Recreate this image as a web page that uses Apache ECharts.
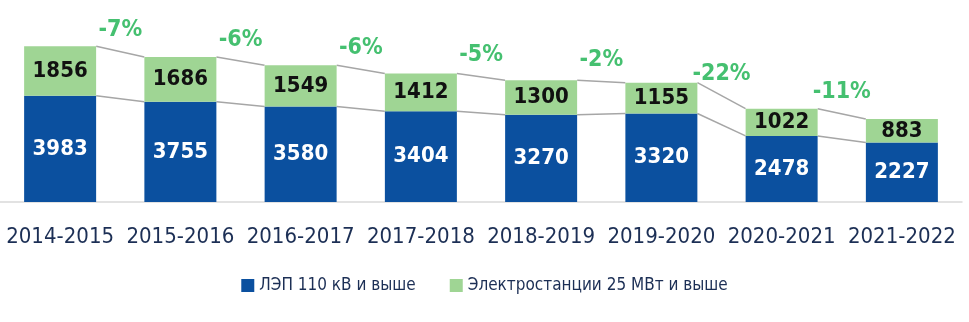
<!DOCTYPE html>
<html>
<head>
<meta charset="utf-8">
<script src="https://cdn.jsdelivr.net/npm/echarts@6/dist/echarts.min.js"></script>
<style>
  html, body { margin: 0; padding: 0; background: #fff; }
  #chart { width: 969px; height: 322px; }
</style>
</head>
<body>
<div id="chart"></div>
<script>
  // данные
  var years = ['2014-2015', '2015-2016', '2016-2017', '2017-2018', '2018-2019', '2019-2020', '2020-2021', '2021-2022'];
  var lines110 = [3983, 3755, 3580, 3404, 3270, 3320, 2478, 2227];
  var plants25 = [1856, 1686, 1549, 1412, 1300, 1155, 1022, 883];
  var changePct = [-7, -6, -6, -5, -2, -22, -11];
  var legendNames = ['ЛЭП 110 кВ и выше', 'Электростанции 25 МВт и выше'];

  var numFont = "'DejaVu Sans Condensed', Roboto, sans-serif";
  var half = 0.3; // половина ширины столбца в долях категории
  var totals = lines110.map(function (v, i) { return v + plants25[i]; });

  // соединительные линии между столбцами
  var connectors = [];
  for (var i = 0; i < years.length - 1; i++) {
    connectors.push({ coords: [[i + half, totals[i]], [i + 1 - half, totals[i + 1]]] });
    connectors.push({ coords: [[i + half, lines110[i]], [i + 1 - half, lines110[i + 1]]] });
  }
  var pctPoints = changePct.map(function (p, i) {
    return { value: [i + 0.5, (totals[i] + totals[i + 1]) / 2], label: { formatter: p + '%' } };
  });

  var chart = echarts.init(document.getElementById('chart'));
  var option = {
    animation: false,
    grid: { left: -3, right: 7, top: 2, bottom: 120 },
    legend: {
      data: legendNames,
      bottom: 23,
      left: 'center',
      itemWidth: 13,
      itemHeight: 13,
      itemGap: 34,
      icon: 'rect',
      textStyle: { fontFamily: numFont, fontSize: 17, color: '#1c2f55' }
    },
    xAxis: [
      {
        type: 'category',
        data: years,
        axisTick: { show: false },
        axisLine: { lineStyle: { color: '#d9d9d9', width: 1.5 } },
        axisLabel: { interval: 0, margin: 24, fontFamily: numFont, fontSize: 22, color: '#1c2f55' }
      },
      { type: 'value', min: -0.5, max: years.length - 0.5, show: false }
    ],
    yAxis: { type: 'value', min: 0, max: 7500, show: false },
    series: [
      {
        name: legendNames[0],
        type: 'bar',
        stack: 'all',
        barWidth: 72,
        z: 3,
        data: lines110,
        itemStyle: { color: '#0b509f' },
        label: { show: true, position: 'inside', color: '#fff', fontFamily: numFont, fontWeight: 'bold', fontSize: 22 }
      },
      {
        name: legendNames[1],
        type: 'bar',
        stack: 'all',
        barWidth: 72,
        z: 3,
        data: plants25,
        itemStyle: { color: '#9fd594' },
        label: { show: true, position: 'inside', color: '#111', fontFamily: numFont, fontWeight: 'bold', fontSize: 22 }
      },
      {
        type: 'lines',
        coordinateSystem: 'cartesian2d',
        xAxisIndex: 1,
        z: 2,
        silent: true,
        lineStyle: { color: '#a6a6a6', width: 1.5, opacity: 1 },
        data: connectors
      },
      {
        type: 'scatter',
        xAxisIndex: 1,
        symbolSize: 0,
        data: pctPoints,
        label: { show: true, position: 'top', distance: 10, color: '#16b04c', fontFamily: numFont, fontWeight: 'bold', fontSize: 23 }
      }
    ]
  };
  chart.setOption(option);
</script>
</body>
</html>
